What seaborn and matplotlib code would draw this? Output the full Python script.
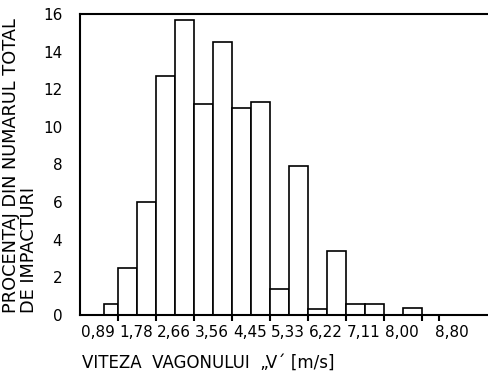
import numpy as np
import matplotlib
matplotlib.use("Agg")
import matplotlib.pyplot as plt
import matplotlib.transforms as mtransforms
import seaborn as sns

# Bin edges (m/s) and percentage of impacts per bin
bin_edges = [0.555, 0.89, 1.335, 1.78, 2.225, 2.66, 3.11, 3.56, 4.005, 4.45,
             4.89, 5.33, 5.775, 6.22, 6.665, 7.11, 7.555, 8.00]
percent = [0.6, 2.5, 6.0, 12.7, 15.7, 11.2, 14.5, 11.0, 11.3, 1.4,
           7.9, 0.3, 3.4, 0.6, 0.6, 0.0, 0.35]

x_tick_pos = [0.89, 1.78, 2.66, 3.56, 4.45, 5.33, 6.22, 7.11, 8.00, 8.41]
x_tick_labels = ["0,89", "1,78", "2,66", "3,56", "4,45", "5,33", "6,22", "7,11", "8,00", "8,80"]
y_ticks = [0, 2, 4, 6, 8, 10, 12, 14, 16]

sns.set_style("white")
plt.rcParams["font.family"] = ["DejaVu Sans"]
plt.rcParams["text.color"] = "black"
plt.rcParams["xtick.color"] = "black"
plt.rcParams["ytick.color"] = "black"
plt.rcParams["axes.labelcolor"] = "black"

W, H = 489, 373
fig = plt.figure(figsize=(W / 100, H / 100), dpi=100)
ax = fig.add_axes([80.3 / W, 1 - 315 / H, 1 - 80.3 / W, (315 - 14) / H])

centers = [(a + b) / 2 for a, b in zip(bin_edges[:-1], bin_edges[1:])]
sns.histplot(x=centers, weights=percent, bins=bin_edges, stat="count",
             fill=True, color="white", alpha=1, edgecolor="black",
             linewidth=1.2, ax=ax)

ax.set_xlim(0, 9.58)
ax.set_ylim(0, 16)

for s in ["left", "top", "bottom"]:
    ax.spines[s].set_visible(True)
    ax.spines[s].set_linewidth(1.5)
    ax.spines[s].set_color("black")
ax.spines["right"].set_visible(False)

ax.set_yticks(y_ticks)
ax.set_yticklabels([str(v) for v in y_ticks])
ax.tick_params(axis="y", length=0, pad=13, labelsize=11, labelcolor="black")

ax.set_xticks(x_tick_pos)
ax.set_xticklabels(x_tick_labels)
ax.tick_params(axis="x", direction="out", length=4, width=1.5, pad=3,
               labelsize=11, bottom=True, labelcolor="black", color="black")
offset = mtransforms.ScaledTranslation(-3 / 100, 0, fig.dpi_scale_trans)
labels = ax.get_xticklabels()
for i, lab in enumerate(labels):
    if i < len(labels) - 1:
        lab.set_ha("right")
        lab.set_transform(lab.get_transform() + offset)
    else:
        lab.set_ha("left")
        lab.set_transform(lab.get_transform() + mtransforms.ScaledTranslation(-4 / 100, 0, fig.dpi_scale_trans))

ax.set_xlabel("")
ax.set_ylabel("")

fig.text(82 / W, 1 - 363 / H, "VITEZA  VAGONULUI  „V´ [m/s]", ha="left", va="center",
         fontsize=12, color="black")
fig.text(2 / W, 1 - 313 / H, "PROCENTAJ DIN NUMARUL TOTAL\nDE IMPACTURI",
         rotation=90, ha="left", va="bottom", multialignment="left",
         fontsize=12.8, linespacing=1.0, color="black")

fig.savefig("out.png", dpi=100)
